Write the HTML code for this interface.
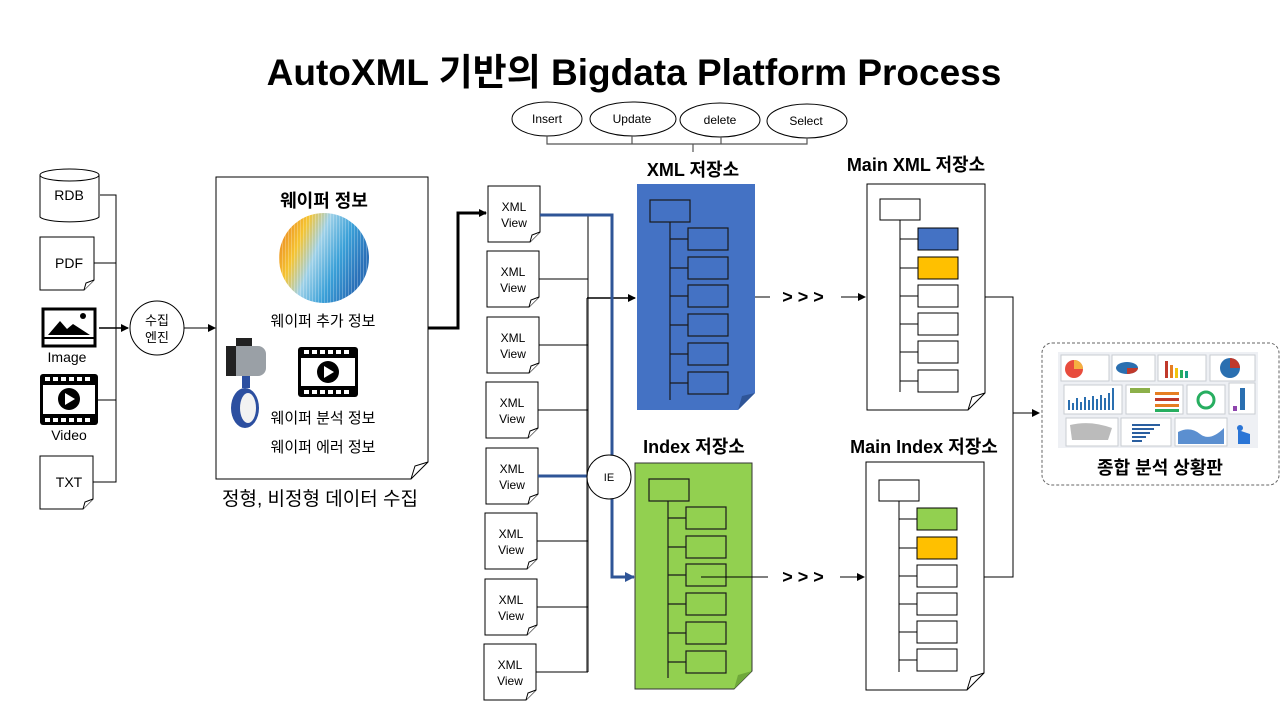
<!DOCTYPE html>
<html><head><meta charset="utf-8"><style>
html,body{margin:0;padding:0;background:#fff}
svg{display:block}
text{font-family:"Liberation Sans","Noto Sans CJK KR",sans-serif}
</style></head><body>
<svg width="1280" height="720" viewBox="0 0 1280 720" xmlns="http://www.w3.org/2000/svg">
<defs>
<marker id="ar" markerWidth="8" markerHeight="8" refX="7" refY="4" orient="auto" markerUnits="userSpaceOnUse"><path d="M0,0 L8,4 L0,8 z" fill="#000"/></marker>
<marker id="arb" markerWidth="10" markerHeight="10" refX="9" refY="5" orient="auto" markerUnits="userSpaceOnUse"><path d="M0,0 L10,5 L0,10 z" fill="#2f5597"/></marker>
<linearGradient id="wg" x1="0" y1="0" x2="1" y2="0.4">
<stop offset="0" stop-color="#e8741c"/><stop offset="0.3" stop-color="#f5c431"/><stop offset="0.5" stop-color="#9fd1e8"/><stop offset="0.75" stop-color="#3aa0d8"/><stop offset="1" stop-color="#2a70b8"/></linearGradient>
<pattern id="wp" width="3" height="3" patternUnits="userSpaceOnUse"><rect width="1" height="3" fill="rgba(255,255,255,0.25)"/></pattern>
</defs>

<text x="634" y="85" font-size="37" font-weight="bold" text-anchor="middle">AutoXML 기반의 Bigdata Platform Process</text>

<!-- CRUD ellipses -->
<g fill="#fff" stroke="#000" stroke-width="1">
<ellipse cx="547" cy="119" rx="35" ry="17"/>
<ellipse cx="633" cy="119" rx="43" ry="17"/>
<ellipse cx="720" cy="120" rx="40" ry="17"/>
<ellipse cx="807" cy="121" rx="40" ry="17"/>
</g>
<g font-size="12" text-anchor="middle"><text x="547" y="123">Insert</text><text x="632" y="123">Update</text><text x="720" y="124">delete</text><text x="806" y="125">Select</text></g>
<path d="M547,136 V144 H807 V138 M632,136 V144 M721,137 V144 M693,144 V152" fill="none" stroke="#555" stroke-width="1.2"/>

<!-- left sources -->
<g fill="#fff" stroke="#000" stroke-width="1">
<path d="M40,175 V217 A30,6 0 0 0 99,217 V175"/>
<ellipse cx="69.5" cy="175" rx="29.5" ry="6"/>
<path d="M40,237 H94 V280 L84,290 H40 Z"/><path d="M84,290 L86,283 L94,280" />
<path d="M40,456 H93 V499 L83,509 H40 Z"/><path d="M83,509 L85,502 L93,499"/>
</g>
<g font-size="14" text-anchor="middle"><text x="69" y="200">RDB</text><text x="69" y="268">PDF</text><text x="69" y="487">TXT</text>
<text x="67" y="362">Image</text><text x="69" y="440">Video</text></g>
<!-- image icon -->
<rect x="43" y="309" width="52" height="37" fill="#fff" stroke="#000" stroke-width="3"/>
<line x1="43" y1="338" x2="95" y2="338" stroke="#000" stroke-width="2"/>
<path d="M48,335 L60,321 L67,329 L73,324 L90,335 Z" fill="#000"/><circle cx="83" cy="316" r="3" fill="#000"/>
<!-- video icon -->
<g><rect x="40" y="374" width="58" height="51" rx="3" fill="#000"/><rect x="43" y="385" width="52" height="29" fill="#fff"/>
<g fill="#fff"><rect x="45" y="377" width="5" height="4"/><rect x="53" y="377" width="5" height="4"/><rect x="61" y="377" width="5" height="4"/><rect x="69" y="377" width="5" height="4"/><rect x="77" y="377" width="5" height="4"/><rect x="85" y="377" width="5" height="4"/>
<rect x="45" y="418" width="5" height="4"/><rect x="53" y="418" width="5" height="4"/><rect x="61" y="418" width="5" height="4"/><rect x="69" y="418" width="5" height="4"/><rect x="77" y="418" width="5" height="4"/><rect x="85" y="418" width="5" height="4"/></g>
<circle cx="69" cy="399" r="11" fill="#000"/><path d="M65,393 L75,399 L65,405 Z" fill="#fff"/></g>

<path d="M100,195 H116 V482 H93 M94,263 H116 M98,400 H116" fill="none" stroke="#000" stroke-width="1"/>
<line x1="99" y1="328" x2="128" y2="328" stroke="#000" stroke-width="1.5" marker-end="url(#ar)"/>
<circle cx="157" cy="328" r="27" fill="#fff" stroke="#000"/>
<g font-size="13" text-anchor="middle"><text x="157" y="325">수집</text><text x="157" y="342">엔진</text></g>
<line x1="184" y1="328" x2="215" y2="328" stroke="#000" stroke-width="1" marker-end="url(#ar)"/>

<!-- big doc -->
<path d="M216,177 H428 V462 L411,479 H216 Z" fill="#fff" stroke="#000"/>
<path d="M411,479 L415,466 L428,462" fill="none" stroke="#000"/>
<text x="324" y="207" font-size="18" font-weight="bold" text-anchor="middle">웨이퍼 정보</text>
<circle cx="324" cy="258" r="45" fill="url(#wg)"/><circle cx="324" cy="258" r="45" fill="url(#wp)"/>
<g font-size="15" text-anchor="middle"><text x="323" y="326">웨이퍼 추가 정보</text><text x="323" y="423">웨이퍼 분석 정보</text><text x="323" y="452">웨이퍼 에러 정보</text></g>
<text x="320" y="505" font-size="19" text-anchor="middle">정형, 비정형 데이터 수집</text>
<!-- valve -->
<rect x="236" y="338" width="16" height="8" fill="#222"/>
<rect x="226" y="346" width="40" height="30" rx="8" fill="#9aa0a6"/><rect x="226" y="346" width="10" height="30" fill="#222"/>
<rect x="242" y="376" width="8" height="12" fill="#2c4fa0"/>
<ellipse cx="245" cy="408" rx="14" ry="20" fill="#2c4fa0"/><ellipse cx="248" cy="408" rx="8" ry="15" fill="#f2f2f2"/>
<!-- video icon 2 -->
<g><rect x="298" y="347" width="60" height="50" rx="3" fill="#000"/><rect x="301" y="358" width="54" height="28" fill="#fff"/>
<g fill="#fff"><rect x="304" y="350" width="5" height="4"/><rect x="312" y="350" width="5" height="4"/><rect x="320" y="350" width="5" height="4"/><rect x="328" y="350" width="5" height="4"/><rect x="336" y="350" width="5" height="4"/><rect x="344" y="350" width="5" height="4"/>
<rect x="304" y="390" width="5" height="4"/><rect x="312" y="390" width="5" height="4"/><rect x="320" y="390" width="5" height="4"/><rect x="328" y="390" width="5" height="4"/><rect x="336" y="390" width="5" height="4"/><rect x="344" y="390" width="5" height="4"/></g>
<circle cx="328" cy="372" r="11" fill="#000"/><path d="M324,366 L334,372 L324,378 Z" fill="#fff"/></g>

<polyline points="428,328 458,328 458,213 486,213" fill="none" stroke="#000" stroke-width="3" marker-end="url(#ar)"/>

<!-- XML view docs -->
<g fill="#fff" stroke="#000" stroke-width="1">
<path d="M488,186 H540 V232 L530,242 H488 Z"/><path d="M530,242 L532,235 L540,232"/>
<path d="M487,251 H539 V297 L529,307 H487 Z"/><path d="M529,307 L531,300 L539,297"/>
<path d="M487,317 H539 V363 L529,373 H487 Z"/><path d="M529,373 L531,366 L539,363"/>
<path d="M486,382 H538 V428 L528,438 H486 Z"/><path d="M528,438 L530,431 L538,428"/>
<path d="M486,448 H538 V494 L528,504 H486 Z"/><path d="M528,504 L530,497 L538,494"/>
<path d="M485,513 H537 V559 L527,569 H485 Z"/><path d="M527,569 L529,562 L537,559"/>
<path d="M485,579 H537 V625 L527,635 H485 Z"/><path d="M527,635 L529,628 L537,625"/>
<path d="M484,644 H536 V690 L526,700 H484 Z"/><path d="M526,700 L528,693 L536,690"/>
</g>
<g font-size="12" text-anchor="middle">
<text x="514" y="211">XML</text><text x="514" y="227">View</text>
<text x="513" y="276">XML</text><text x="513" y="292">View</text>
<text x="513" y="342">XML</text><text x="513" y="358">View</text>
<text x="512" y="407">XML</text><text x="512" y="423">View</text>
<text x="512" y="473">XML</text><text x="512" y="489">View</text>
<text x="511" y="538">XML</text><text x="511" y="554">View</text>
<text x="511" y="604">XML</text><text x="511" y="620">View</text>
<text x="510" y="669">XML</text><text x="510" y="685">View</text>
</g>
<!-- connectors -->
<line x1="588" y1="216" x2="588" y2="672" stroke="#808080" stroke-width="2"/>
<path d="M539,279 H588 M587,298 V672 M539,345 H588 M538,410 H588 M537,541 H588 M537,607 H588 M536,672 H588" fill="none" stroke="#000" stroke-width="1"/>
<line x1="587" y1="298" x2="635" y2="298" stroke="#000" stroke-width="1.5" marker-end="url(#ar)"/>
<polyline points="540,215 612,215 612,577 634,577" fill="none" stroke="#2f5597" stroke-width="3" marker-end="url(#arb)"/>
<line x1="538" y1="476" x2="588" y2="476" stroke="#2f5597" stroke-width="3"/>
<circle cx="609" cy="477" r="22" fill="#fff" stroke="#000"/>
<text x="609" y="481" font-size="11" text-anchor="middle">IE</text>

<!-- XML store -->
<text x="693" y="176" font-size="18" font-weight="bold" text-anchor="middle">XML 저장소</text>
<path d="M637,184 H755 V393 L738,410 H637 Z" fill="#4472c4"/>
<path d="M738,410 L742,396 L755,393 Z" fill="#2f5597"/>
<g fill="none" stroke="#1a1a1a" stroke-width="1.2">
<rect x="650" y="200" width="40" height="22"/><line x1="670" y1="222" x2="670" y2="400"/>
<rect x="688" y="228" width="40" height="22"/><rect x="688" y="257" width="40" height="22"/><rect x="688" y="285" width="40" height="22"/><rect x="688" y="314" width="40" height="22"/><rect x="688" y="343" width="40" height="22"/><rect x="688" y="372" width="40" height="22"/>
<path d="M670,239 H688 M670,268 H688 M670,296 H688 M670,325 H688 M670,354 H688 M670,383 H688"/></g>

<!-- Index store -->
<text x="694" y="453" font-size="18" font-weight="bold" text-anchor="middle">Index 저장소</text>
<path d="M635,463 H752 V671 L734,689 H635 Z" fill="#92d050" stroke="#333"/>
<path d="M734,689 L738,675 L752,671 Z" fill="#6fa83a"/>
<g fill="none" stroke="#1a1a1a" stroke-width="1.2">
<rect x="649" y="479" width="40" height="22"/><line x1="668" y1="501" x2="668" y2="678"/>
<rect x="686" y="507" width="40" height="22"/><rect x="686" y="536" width="40" height="22"/><rect x="686" y="564" width="40" height="22"/><rect x="686" y="593" width="40" height="22"/><rect x="686" y="622" width="40" height="22"/><rect x="686" y="651" width="40" height="22"/>
<path d="M668,518 H686 M668,547 H686 M668,575 H686 M668,604 H686 M668,633 H686 M668,662 H686"/></g>

<!-- >>> -->
<line x1="755" y1="297" x2="770" y2="297" stroke="#000"/>
<text x="803" y="303" font-size="18" font-weight="bold" text-anchor="middle">&gt; &gt; &gt;</text>
<line x1="841" y1="297" x2="865" y2="297" stroke="#000" marker-end="url(#ar)"/>
<line x1="701" y1="577" x2="768" y2="577" stroke="#000"/>
<text x="803" y="583" font-size="18" font-weight="bold" text-anchor="middle">&gt; &gt; &gt;</text>
<line x1="840" y1="577" x2="864" y2="577" stroke="#000" marker-end="url(#ar)"/>

<!-- Main XML -->
<text x="916" y="171" font-size="18" font-weight="bold" text-anchor="middle">Main XML 저장소</text>
<path d="M867,184 H985 V393 L968,410 H867 Z" fill="#fff" stroke="#000"/>
<path d="M968,410 L972,397 L985,393" fill="none" stroke="#000"/>
<g stroke="#000" stroke-width="1">
<rect x="880" y="199" width="40" height="21" fill="#fff"/><line x1="900" y1="220" x2="900" y2="392"/>
<rect x="918" y="228" width="40" height="22" fill="#4472c4"/><rect x="918" y="257" width="40" height="22" fill="#ffc000"/>
<rect x="918" y="285" width="40" height="22" fill="#fff"/><rect x="918" y="313" width="40" height="22" fill="#fff"/><rect x="918" y="341" width="40" height="22" fill="#fff"/><rect x="918" y="370" width="40" height="22" fill="#fff"/>
<path d="M900,239 H918 M900,268 H918 M900,296 H918 M900,324 H918 M900,352 H918 M900,381 H918"/></g>

<!-- Main Index -->
<text x="924" y="453" font-size="18" font-weight="bold" text-anchor="middle">Main Index 저장소</text>
<path d="M866,462 H984 V673 L967,690 H866 Z" fill="#fff" stroke="#000"/>
<path d="M967,690 L971,677 L984,673" fill="none" stroke="#000"/>
<g stroke="#000" stroke-width="1">
<rect x="879" y="480" width="40" height="21" fill="#fff"/><line x1="899" y1="501" x2="899" y2="672"/>
<rect x="917" y="508" width="40" height="22" fill="#92d050"/><rect x="917" y="537" width="40" height="22" fill="#ffc000"/>
<rect x="917" y="565" width="40" height="22" fill="#fff"/><rect x="917" y="593" width="40" height="22" fill="#fff"/><rect x="917" y="621" width="40" height="22" fill="#fff"/><rect x="917" y="649" width="40" height="22" fill="#fff"/>
<path d="M899,519 H917 M899,548 H917 M899,576 H917 M899,604 H917 M899,632 H917 M899,660 H917"/></g>

<path d="M985,297 H1013 V577 H984" fill="none" stroke="#000"/>
<line x1="1013" y1="413" x2="1039" y2="413" stroke="#000" marker-end="url(#ar)"/>

<!-- dashboard -->
<rect x="1042" y="343" width="237" height="142" rx="10" fill="#fff" stroke="#666" stroke-dasharray="3,2"/>
<rect x="1058" y="352" width="200" height="96" fill="#eef0f4"/>
<g stroke="#c8ccd2" stroke-width="1" fill="#fff">
<rect x="1061" y="355" width="48" height="26"/><rect x="1112" y="355" width="43" height="26"/><rect x="1158" y="355" width="48" height="26"/><rect x="1210" y="355" width="45" height="26"/>
<rect x="1064" y="385" width="58" height="29"/><rect x="1126" y="385" width="57" height="29"/><rect x="1187" y="385" width="38" height="29"/><rect x="1229" y="383" width="26" height="31"/>
<rect x="1066" y="418" width="52" height="28"/><rect x="1121" y="418" width="50" height="28"/><rect x="1175" y="418" width="52" height="28"/>
</g>
<circle cx="1074" cy="369" r="9" fill="#e84c3d"/><path d="M1074,369 L1074,360 A9,9 0 0 1 1083,369 Z" fill="#f5b041"/>
<ellipse cx="1127" cy="368" rx="11" ry="6" fill="#2a6fb0"/><path d="M1127,368 L1138,368 A11,6 0 0 1 1127,374 Z" fill="#c0392b"/>
<g fill="#e67e22"><rect x="1165" y="361" width="3" height="17" fill="#c0392b"/><rect x="1170" y="365" width="3" height="13"/><rect x="1175" y="368" width="3" height="10" fill="#f1c40f"/><rect x="1180" y="370" width="3" height="8" fill="#27ae60"/><rect x="1185" y="371" width="3" height="7" fill="#16a085"/></g>
<circle cx="1230" cy="368" r="10" fill="#2a6fb0"/><path d="M1230,368 L1230,358 A10,10 0 0 1 1240,368 Z" fill="#c0392b"/>
<g fill="#2a6fb0"><rect x="1068" y="400" width="2" height="10"/><rect x="1072" y="403" width="2" height="7"/><rect x="1076" y="398" width="2" height="12"/><rect x="1080" y="402" width="2" height="8"/><rect x="1084" y="397" width="2" height="13"/><rect x="1088" y="400" width="2" height="10"/><rect x="1092" y="396" width="2" height="14"/><rect x="1096" y="399" width="2" height="11"/><rect x="1100" y="395" width="2" height="15"/><rect x="1104" y="398" width="2" height="12"/><rect x="1108" y="393" width="2" height="17"/><rect x="1112" y="388" width="2" height="22"/></g>
<rect x="1130" y="388" width="20" height="5" fill="#8cb04a"/>
<g><rect x="1155" y="392" width="24" height="3" fill="#e67e22"/><rect x="1155" y="398" width="24" height="3" fill="#c0392b"/><rect x="1155" y="404" width="24" height="3" fill="#e67e22"/><rect x="1155" y="409" width="24" height="3" fill="#27ae60"/></g>
<circle cx="1206" cy="400" r="8" fill="none" stroke="#27ae60" stroke-width="3"/>
<rect x="1240" y="388" width="5" height="22" fill="#2a6fb0"/><rect x="1233" y="406" width="4" height="5" fill="#8e44ad"/>
<path d="M1070,425 Q1090,420 1112,428 L1108,440 L1072,440 Z" fill="#bbb"/>
<g fill="#2a5fa0"><rect x="1132" y="424" width="28" height="2"/><rect x="1132" y="428" width="22" height="2"/><rect x="1132" y="432" width="18" height="2"/><rect x="1132" y="436" width="14" height="2"/><rect x="1132" y="440" width="10" height="2"/></g>
<path d="M1178,432 Q1190,426 1200,434 T1224,428 V444 H1178 Z" fill="#5b8fd0"/>
<path d="M1238,430 V444 H1250 V434 Z" fill="#2a75d6"/><circle cx="1240" cy="428" r="3" fill="#2a75d6"/>
<text x="1160" y="474" font-size="18" font-weight="bold" text-anchor="middle">종합 분석 상황판</text>
</svg>
</body></html>
